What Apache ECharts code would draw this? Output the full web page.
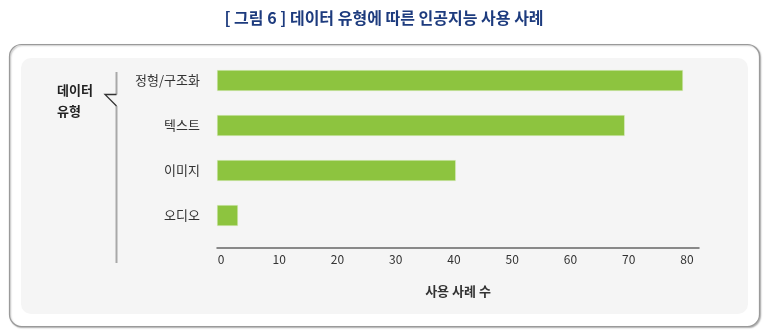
<!DOCTYPE html>
<html>
<head>
<meta charset="utf-8">
<script src="https://cdn.jsdelivr.net/npm/echarts@6/dist/echarts.min.js"></script>
<style>
html,body{margin:0;padding:0;background:#fff;}
#chart{width:768px;height:331px;}
</style>
</head>
<body>
<div id="chart"></div>
<script>
const titleText = '[ 그림 6 ] 데이터 유형에 따른 인공지능 사용 사례';
const categories = ['정형/구조화', '텍스트', '이미지', '오디오'];
const values = [80, 70, 41, 3.6];
const xTicks = [0, 10, 20, 30, 40, 50, 60, 70, 80];
const xAxisName = '사용 사례 수';
const groupLabel = '데이터\n유형';

const FONT = '"Noto Sans CJK KR", "Noto Sans", sans-serif';
const chart = echarts.init(document.getElementById('chart'), null, {renderer: 'canvas'});

const option = {
  backgroundColor: '#ffffff',
  animation: false,
  title: {
    text: titleText,
    left: 'center',
    top: 5,
    textStyle: {fontFamily: FONT, fontSize: 16, fontWeight: 'bold', color: '#1d3b7e'}
  },
  graphic: [
    {type: 'rect', z: -10, shape: {x: 9.5, y: 44.5, width: 750, height: 282, r: 12},
     style: {fill: '#ffffff', stroke: '#9a9a9a', lineWidth: 1.2,
             shadowBlur: 1.5, shadowOffsetX: 1, shadowOffsetY: 1, shadowColor: 'rgba(0,0,0,0.25)'}},
    {type: 'rect', z: -9, shape: {x: 21, y: 58, width: 727, height: 256, r: 10},
     style: {fill: '#f5f5f5'}},
    {type: 'polyline', z: 5, shape: {points: [[116.5, 72], [116.5, 94.5]]},
     style: {stroke: '#a8a8a8', lineWidth: 2, fill: null}},
    {type: 'polyline', z: 5, shape: {points: [[116.5, 106], [116.5, 263]]},
     style: {stroke: '#a8a8a8', lineWidth: 2, fill: null}},
    {type: 'polyline', z: 6, shape: {points: [[116.5, 94.5], [105, 94.5], [116.5, 106]]},
     style: {stroke: '#333333', lineWidth: 1.3, fill: null}},
    {type: 'text', z: 6, style: {x: 57, y: 80, text: groupLabel, fontFamily: FONT, fontSize: 13,
      fontWeight: 'bold', fill: '#222222', lineHeight: 21, textAlign: 'left', textVerticalAlign: 'top'}}
  ],
  grid: {left: 217, right: 69, top: 58, bottom: 93, containLabel: false},
  xAxis: {
    type: 'value',
    min: 0,
    max: 82.75,
    interval: 10,
    offset: 10,
    name: xAxisName,
    nameLocation: 'middle',
    nameGap: 37,
    nameTextStyle: {fontFamily: FONT, fontSize: 13, fontWeight: 'bold', color: '#333333'},
    axisLine: {show: true, lineStyle: {color: '#666666', width: 1.5}},
    axisTick: {show: false},
    splitLine: {show: false},
    axisLabel: {
      fontFamily: FONT, fontSize: 12, color: '#333333', margin: 5,
      padding: [0, 0, 0, 8], showMaxLabel: false,
      formatter: function (v) { return xTicks.indexOf(v) >= 0 ? String(v) : ''; }
    }
  },
  yAxis: {
    type: 'category',
    data: categories,
    inverse: true,
    axisLine: {show: false},
    axisTick: {show: false},
    splitLine: {show: false},
    axisLabel: {fontFamily: FONT, fontSize: 13, color: '#333333', margin: 17}
  },
  series: [{
    type: 'bar',
    data: values,
    barWidth: 21,
    itemStyle: {color: '#8dc43f', borderColor: '#e4f0d2', borderWidth: 0.5},
    silent: true
  }]
};
chart.setOption(option);
</script>
</body>
</html>
